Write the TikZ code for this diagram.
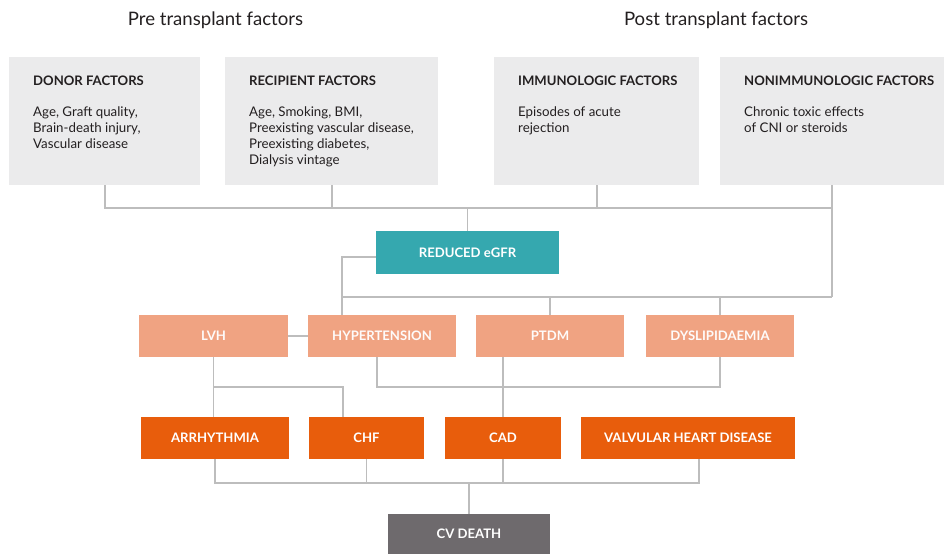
\documentclass[tikz,border=0pt]{standalone}
\usepackage{fontspec}
\setmainfont{Lato}
\usetikzlibrary{calc}

\definecolor{panelgray}{HTML}{EBEBEC}
\definecolor{tealbox}{HTML}{35A8AF}
\definecolor{salmonbox}{HTML}{F0A382}
\definecolor{orangebox}{HTML}{E85D0C}
\definecolor{deathbox}{HTML}{6E6A6D}
\definecolor{linkgray}{HTML}{BDBDBD}
\definecolor{inkdark}{HTML}{231F20}

\tikzset{
  panel/.style={fill=panelgray, draw=none, inner sep=0pt, anchor=north west},
  paneltitle/.style={anchor=base west, inner sep=0pt, text=inkdark,
    font=\fontsize{13.1}{15}\selectfont\bfseries},
  paneltext/.style={anchor=north west, inner sep=0pt, align=left, text=inkdark,
    font=\fontsize{13.3}{16}\selectfont},
  heading/.style={inner sep=0pt, text=inkdark, font=\fontsize{18.6}{20}\selectfont},
  stage/.style={draw=none, inner sep=0pt, text=white, minimum height=42pt,
    font=\fontsize{13.1}{15}\selectfont\bfseries},
  egfrbox/.style={stage, fill=tealbox, minimum height=43pt},
  riskbox/.style={stage, fill=salmonbox, text=white!96!salmonbox},
  diseasebox/.style={stage, fill=orangebox},
  deathstyle/.style={stage, fill=deathbox, minimum height=40pt},
  link/.style={draw=linkgray, line width=1.6pt}
}

\begin{document}
\begin{tikzpicture}[x=1pt, y=-1pt]
\useasboundingbox (0,0) rectangle (944,554);

% column headings
\node[heading] (pre)  at (215.5,20) {Pre transplant factors};
\node[heading] (post) at (716,20)   {Post transplant factors};

% factor panels
\node[panel, minimum width=191pt, minimum height=128pt] (donor)  at (9,57)   {};
\node[panel, minimum width=213pt, minimum height=128pt] (recip)  at (225,57) {};
\node[panel, minimum width=205pt, minimum height=128pt] (immuno) at (494,57) {};
\node[panel, minimum width=224pt, minimum height=128pt] (nonimm) at (720,57) {};

\node[paneltitle] (donorT)  at (33,85.5)  {DONOR FACTORS};
\node[paneltitle] (recipT)  at (249,85.5) {RECIPIENT FACTORS};
\node[paneltitle] (immunoT) at (518,85.5) {IMMUNOLOGIC FACTORS};
\node[paneltitle] (nonimmT) at (744,85.5) {NONIMMUNOLOGIC FACTORS};

\node[paneltext] (donorB)  at (33,107)  {Age, Graft quality,\\Brain-death injury,\\Vascular disease};
\node[paneltext] (recipB)  at (249,107) {Age, Smoking, BMI,\\Preexisting vascular disease,\\Preexisting diabetes,\\Dialysis vintage};
\node[paneltext] (immunoB) at (518,107) {Episodes of acute\\rejection};
\node[paneltext] (nonimmB) at (744,107) {Chronic toxic effects\\of CNI or steroids};

% kidney function
\node[egfrbox, minimum width=183pt] (egfr) at (467.5,252.5) {REDUCED eGFR};

% risk factors
\node[riskbox, minimum width=149pt] (lvh)  at (213.5,336) {LVH};
\node[riskbox, minimum width=148pt] (htn)  at (382,336)   {HYPERTENSION};
\node[riskbox, minimum width=148pt] (ptdm) at (550,336)   {PTDM};
\node[riskbox, minimum width=148pt] (dys)  at (720,336)   {DYSLIPIDAEMIA};

% cardiovascular disease
\node[diseasebox, minimum width=148pt] (arr) at (215,438)   {ARRHYTHMIA};
\node[diseasebox, minimum width=115pt] (chf) at (366.5,438) {CHF};
\node[diseasebox, minimum width=116pt] (cad) at (503,438)   {CAD};
\node[diseasebox, minimum width=214pt] (vhd) at (688,438)   {VALVULAR HEART DISEASE};

% outcome
\node[deathstyle, minimum width=162pt] (cvd) at (469,534) {CV DEATH};

% bus levels and drop positions
\coordinate (busA) at (0,208);
\coordinate (busB) at (0,297);
\coordinate (busC) at (0,387);
\coordinate (busD) at (0,483);
\coordinate (xh)   at (342,0);
\coordinate (xchf) at (343,0);
\coordinate (xhtn) at (377,0);
\coordinate (xvhd) at (699,0);

% panels -> reduced eGFR
\draw[link] (donor.south) |- (busA -| nonimm.south) -- (busB -| nonimm.south);
\draw[link] (nonimm.south) -- (nonimm.south |- busA);
\draw[link] (recip.south) -- (recip.south |- busA);
\draw[link] (immuno.south) -- (immuno.south |- busA);
\draw[link] (egfr.north) -- (egfr.north |- busA);

% reduced eGFR -> risk factors
\draw[link] ([yshift=-4.5pt]egfr.west) -| (xh |- htn.north);
\draw[link] (xh |- busB) -- (busB -| nonimm.south);
\draw[link] (ptdm.north) -- (ptdm.north |- busB);
\draw[link] (dys.north) -- (dys.north |- busB);

% risk factors -> cardiovascular disease
\draw[link] (lvh.east) -- (htn.west);
\draw[link] (lvh.south) -- (lvh.south |- arr.north);
\draw[link] (lvh.south |- busC) -| (xchf |- chf.north);
\draw[link] (xhtn |- htn.south) |- (busC -| dys.south) -- (dys.south);
\draw[link] (cad.north |- ptdm.south) -- (cad.north);

% cardiovascular disease -> CV death
\draw[link] (arr.south) |- (busD -| xvhd) -- (xvhd |- vhd.south);
\draw[link] (chf.south) -- (chf.south |- busD);
\draw[link] (cad.south) -- (cad.south |- busD);
\draw[link] (cvd.north) -- (cvd.north |- busD);
\end{tikzpicture}
\end{document}
